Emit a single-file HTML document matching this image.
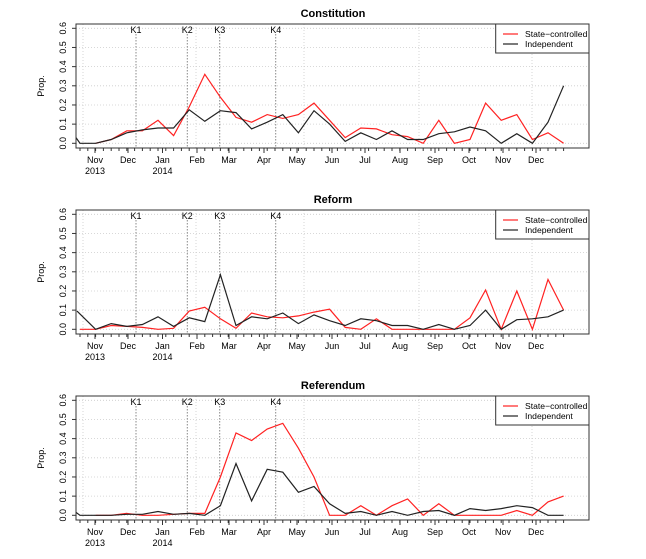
<!DOCTYPE html>
<html><head><meta charset="utf-8"><style>body{margin:0;background:#fff}svg{display:block}text{font-family:"Liberation Sans",Arial,sans-serif}</style></head>
<body><svg id="s" width="646" height="559" xmlns="http://www.w3.org/2000/svg"></svg>
<script>
const panels=[
{t:"Constitution",off:0,
b:[[76,0.03],[80,0],[0,0],[0,0.02],[0,0.055],[0,0.07],[0,0.08],[0,0.08],[0,0.175],[0,0.115],[0,0.17],[0,0.16],[0,0.075],[0,0.11],[0,0.15],[0,0.055],[0,0.17],[0,0.1],[0,0.01],[0,0.055],[0,0.02],[0,0.065],[0,0.02],[0,0.02],[0,0.05],[0,0.06],[0,0.085],[0,0.065],[0,0.0],[0,0.05],[0,0.0],[0,0.11],[0,0.3]],
r:[null,null,0,0.02,0.065,0.065,0.12,0.04,0.19,0.36,0.24,0.135,0.11,0.15,0.13,0.15,0.21,0.12,0.03,0.08,0.075,0.045,0.035,0.0,0.12,0.0,0.02,0.21,0.12,0.15,0.02,0.055,0.0]},
{t:"Reform",off:186,
b:[[77,0.095],null,[0,0],[0,0.03],[0,0.015],[0,0.025],[0,0.065],[0,0.015],[0,0.06],[0,0.04],[0,0.285],[0,0.02],[0,0.065],[0,0.055],[0,0.085],[0,0.03],[0,0.075],[0,0.045],[0,0.02],[0,0.055],[0,0.045],[0,0.02],[0,0.02],[0,0],[0,0.025],[0,0],[0,0.02],[0,0.1],[0,0],[0,0.05],[0,0.055],[0,0.065],[0,0.1]],
r:[null,0,0,0.02,0.015,0.01,0,0.005,0.095,0.115,0.055,0.005,0.085,0.065,0.06,0.07,0.09,0.105,0.01,0,0.055,0,0,0,0,0,0.06,0.205,0,0.2,0,0.26,0.1]},
{t:"Referendum",off:372,
b:[[76,0.015],[80,0],[0,0],[0,0],[0,0.005],[0,0.005],[0,0.02],[0,0.005],[0,0.01],[0,0],[0,0.05],[0,0.27],[0,0.075],[0,0.24],[0,0.225],[0,0.12],[0,0.15],[0,0.06],[0,0.01],[0,0.02],[0,0],[0,0.02],[0,0],[0,0.02],[0,0.025],[0,0],[0,0.035],[0,0.025],[0,0.035],[0,0.05],[0,0.04],[0,0],[0,0]],
r:[null,null,0,0,0.01,0,0,0.005,0.01,0.01,0.2,0.43,0.39,0.45,0.48,0.35,0.2,0,0,0.05,0,0.05,0.085,0,0.06,0,0,0,0,0.025,0,0.07,0.1]}
];
let h='';
const X=i=>80+15.6*i;
panels.forEach(p=>{
 const o=p.off,Y=v=>143.3+o-v*(115/0.6);
 h+=`<text x="333" y="${17+o}" font-size="11" font-weight="bold" text-anchor="middle">${p.t}</text>`;
 for(let k=0;k<=6;k++){const y=Y(k/10);h+=`<line x1="76" x2="589" y1="${y}" y2="${y}" stroke="#ccc" stroke-width="0.8" stroke-dasharray="1,2"/>`;
  h+=`<line x1="72" x2="76" y1="${y}" y2="${y}" stroke="#333"/><text transform="translate(66,${y}) rotate(-90)" font-size="9" text-anchor="middle">${(k/10).toFixed(1)}</text>`;}
 [83,196,304,419,532].forEach(x=>h+=`<line x1="${x}" x2="${x}" y1="${24+o}" y2="${148+o}" stroke="#ccc" stroke-width="0.8" stroke-dasharray="1,2"/>`);
 [["K1",136],["K2",187.3],["K3",219.7],["K4",275.7]].forEach(([l,x])=>{h+=`<line x1="${x}" x2="${x}" y1="${34+o}" y2="${148+o}" stroke="#888" stroke-dasharray="1.5,1.5"/><text x="${x}" y="${33+o}" font-size="9" text-anchor="middle">${l}</text>`;});
 h+=`<text transform="translate(44,${86+o}) rotate(-90)" font-size="9" text-anchor="middle">Prop.</text>`;
 for(let x=80;x<=568;x+=7.8)h+=`<line x1="${x}" x2="${x}" y1="${148+o}" y2="${151+o}" stroke="#333"/>`;
 const m=[["Nov",95],["Dec",128],["Jan",162.5],["Feb",197],["Mar",229],["Apr",264],["May",297],["Jun",332],["Jul",365],["Aug",400],["Sep",435],["Oct",469],["Nov",503],["Dec",536]];
 m.forEach(([l,x])=>h+=`<line x1="${x}" x2="${x}" y1="${148+o}" y2="${153+o}" stroke="#333"/><text x="${x}" y="${163+o}" font-size="9" text-anchor="middle">${l}</text>`);
 h+=`<text x="95" y="${174+o}" font-size="9" text-anchor="middle">2013</text><text x="162.5" y="${174+o}" font-size="9" text-anchor="middle">2014</text>`;
 let rp=[];p.r.forEach((v,i)=>{if(v!==null)rp.push(X(i-1).toFixed(1)+','+Y(v).toFixed(1));});
 h+=`<polyline points="${rp.join(' ')}" fill="none" stroke="#f22" stroke-width="1.2"/>`;
 let bp=[];p.b.forEach((e,i)=>{if(!e)return;const x=e[0]||X(i-1);bp.push(x.toFixed(1)+','+Y(e[1]).toFixed(1));});
 h+=`<polyline points="${bp.join(' ')}" fill="none" stroke="#222" stroke-width="1.2"/>`;
 h+=`<rect x="76" y="${24+o}" width="513" height="124" fill="none" stroke="#333" stroke-width="1"/>`;
 h+=`<rect x="495.7" y="${24+o}" width="93.3" height="29" fill="#fff" stroke="#333"/>`;
 h+=`<line x1="503" x2="518" y1="${34+o}" y2="${34+o}" stroke="#f22" stroke-width="1.2"/><text x="525" y="${37+o}" font-size="8.6">State−controlled</text>`;
 h+=`<line x1="503" x2="518" y1="${44+o}" y2="${44+o}" stroke="#222" stroke-width="1.2"/><text x="525" y="${47+o}" font-size="8.6">Independent</text>`;
});
document.getElementById('s').innerHTML=h;
</script></body></html>
